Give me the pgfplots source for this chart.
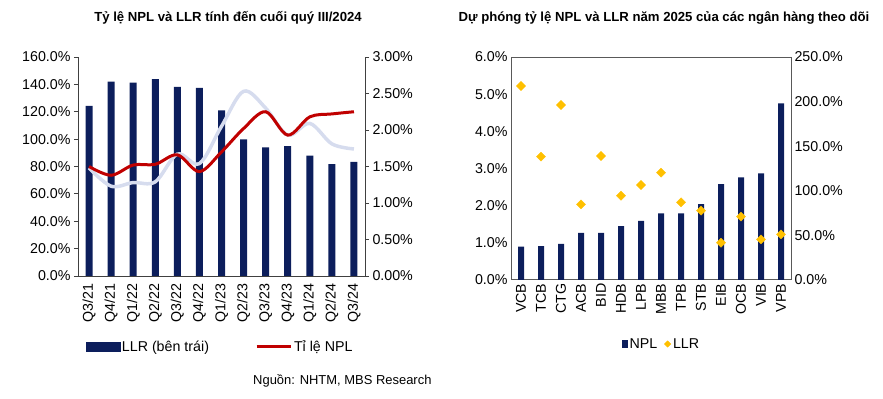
\documentclass[border=0pt]{standalone}
\usepackage{fontspec}
\setmainfont{Liberation Sans}
\usepackage{pgfplots}
\pgfplotsset{compat=1.18}
\definecolor{navy}{RGB}{12,30,92}
\definecolor{nplred}{RGB}{192,0,0}
\definecolor{lightline}{RGB}{214,220,238}
\definecolor{gold}{RGB}{255,192,0}
\begin{document}
\begin{tikzpicture}
\path[use as bounding box] (0bp,0bp) rectangle (883bp,399bp);
\pgfplotsset{every axis/.append style={scale only axis,
  font=\fontsize{14.3}{16}\selectfont,
  /pgf/number format/assume math mode=true,
  tick align=outside, major tick length=4bp,
  axis line style={black!75, line width=0.9bp},
  tick style={black!75, line width=0.8bp}}}
% ---------- left chart ----------
\begin{axis}[at={(78bp,123bp)}, anchor=south west, width=287bp, height=219bp,
  xmin=-0.5, xmax=12.5, ymin=0, ymax=160,
  ytick={0,20,...,160},
  yticklabel={\pgfmathprintnumber[fixed,fixed zerofill,precision=1]{\tick}\%},
  axis y line*=left, axis x line*=bottom,
  xtick={0,...,12},
  xticklabels={Q3/21,Q4/21,Q1/22,Q2/22,Q3/22,Q4/22,Q1/23,Q2/23,Q3/23,Q4/23,Q1/24,Q2/24,Q3/24},
  x tick label style={rotate=90, anchor=east},
  major x tick style={draw=none},
  legend style={at={(0.495,-0.324)}, anchor=center, draw=none, fill=none,
    font=\fontsize{14.3}{16}\selectfont, inner sep=0pt,
    /tikz/every even column/.append style={column sep=44bp}},
  legend columns=2, legend cell align=left]
\addplot[ybar, bar width=7bp, bar shift=0pt, fill=navy, draw=none,
  forget plot] coordinates {
(0,124.2)(1,142.0)(2,141.2)(3,143.9)(4,138.1)(5,137.4)(6,121.0)
(7,99.9)(8,94.0)(9,94.8)(10,87.9)(11,81.8)(12,83.3)};
\addlegendimage{legend image code/.code={\fill[navy] (0bp,-4.5bp) rectangle (34bp,4.5bp);}}
\addlegendentry{LLR (bên trái)}
\addlegendimage{legend image code/.code={\draw[nplred, line width=3bp] (0bp,0bp) -- (34bp,0bp);}}
\addlegendentry{Tỉ lệ NPL}
\end{axis}
\begin{axis}[at={(78bp,123bp)}, anchor=south west, width=287bp, height=219bp,
  xmin=-0.5, xmax=12.5, ymin=0, ymax=3,
  ytick={0,0.5,...,3},
  yticklabel={\pgfmathprintnumber[fixed,fixed zerofill,precision=2]{\tick}\%},
  axis y line*=right, axis x line=none]
\addplot[lightline, line width=3.5bp, smooth, tension=0.55] coordinates {
(0,1.48)(1,1.23)(2,1.28)(3,1.29)(4,1.67)(5,1.54)(6,2.05)
(7,2.53)(8,2.30)(9,1.93)(10,2.09)(11,1.81)(12,1.74)};
\addplot[nplred, line width=3bp, smooth, tension=0.55] coordinates {
(0,1.50)(1,1.38)(2,1.52)(3,1.53)(4,1.66)(5,1.43)(6,1.70)
(7,2.02)(8,2.25)(9,1.93)(10,2.18)(11,2.22)(12,2.25)};
\end{axis}
% ---------- right chart ----------
\begin{axis}[at={(511bp,119bp)}, anchor=south west, width=280bp, height=223bp,
  xmin=-0.5, xmax=13.5, ymin=0, ymax=6,
  ytick={0,1,...,6},
  yticklabel={\pgfmathprintnumber[fixed,fixed zerofill,precision=1]{\tick}\%},
  axis line style={black!65, line width=1bp},
  major tick length=0pt,
  xtick={0,...,13},
  xticklabels={VCB,TCB,CTG,ACB,BID,HDB,LPB,MBB,TPB,STB,EIB,OCB,VIB,VPB},
  x tick label style={rotate=90, anchor=east},
  ytick pos=left]
\addplot[ybar, bar width=6bp, bar shift=0pt, fill=navy, draw=none] coordinates {
(0,0.90)(1,0.91)(2,0.97)(3,1.27)(4,1.27)(5,1.45)(6,1.59)
(7,1.79)(8,1.79)(9,2.04)(10,2.58)(11,2.76)(12,2.87)(13,4.75)};
\end{axis}
\begin{axis}[at={(511bp,119bp)}, anchor=south west, width=280bp, height=223bp,
  xmin=-0.5, xmax=13.5, ymin=0, ymax=250,
  ytick={0,50,...,250},
  yticklabel={\pgfmathprintnumber[fixed,fixed zerofill,precision=1]{\tick}\%},
  axis y line*=right, axis x line=none, major tick length=0pt,
  axis line style={black!65, line width=1bp},
  legend style={at={(0.538,-0.287)}, anchor=center, draw=none, fill=none,
    font=\fontsize{14.3}{16}\selectfont, inner sep=0pt,
    /tikz/every even column/.append style={column sep=5bp}},
  legend columns=2, legend cell align=left]
\addlegendimage{legend image code/.code={\fill[navy] (0bp,-3.5bp) rectangle (5bp,3.5bp);}}
\addlegendentry{NPL}
\addplot[only marks, mark=square*, mark size=3.2bp, mark options={rotate=45, fill=gold, draw=gold},
  legend image code/.code={\fill[gold] (2.5bp,-3.2bp) -- (5.7bp,0bp) -- (2.5bp,3.2bp) -- (-0.7bp,0bp) -- cycle;}]
coordinates {
(0,217.5)(1,138.3)(2,196.2)(3,84.8)(4,139.0)(5,94.5)(6,106.5)
(7,120.3)(8,87.1)(9,77.7)(10,41.8)(11,71.0)(12,45.6)(13,51.2)};
\addlegendentry{LLR}
\end{axis}
% ---------- titles and source ----------
\node[font=\fontsize{13.2}{15}\selectfont\bfseries] at (228bp,381bp) {Tỷ lệ NPL và LLR tính đến cuối quý III/2024};
\node[font=\fontsize{13.2}{15}\selectfont\bfseries] at (664bp,381bp) {Dự phóng tỷ lệ NPL và LLR năm 2025 của các ngân hàng theo dõi};
\node[anchor=east, font=\fontsize{13}{15}\selectfont] at (435bp,18bp) {Nguồn: NHTM, MBS Research};
\end{tikzpicture}
\end{document}
